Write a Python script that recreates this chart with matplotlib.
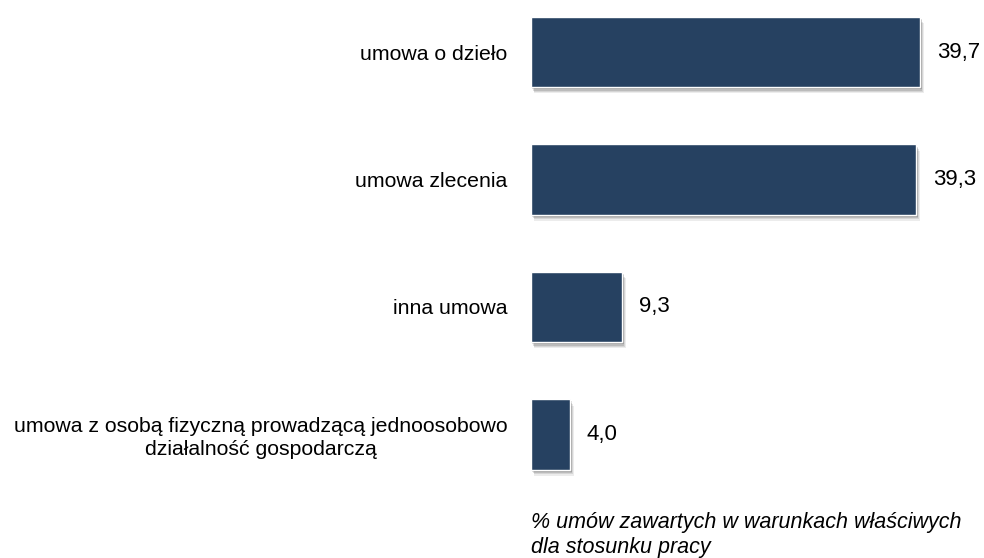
import matplotlib
matplotlib.use("Agg")
import matplotlib.pyplot as plt
import matplotlib.patheffects as pe

categories = ["umowa o dzieło", "umowa zlecenia", "inna umowa",
              "umowa z osobą fizyczną prowadzącą jednoosobowo\ndziałalność gospodarczą"]
values = [39.7, 39.3, 9.3, 4.0]
value_labels = ["39,7", "39,3", "9,3", "4,0"]
note = "% umów zawartych w warunkach właściwych\ndla stosunku pracy"

plt.rcParams['font.family'] = ['Liberation Sans', 'DejaVu Sans']

W, H = 984, 558
fig = plt.figure(figsize=(W / 100, H / 100), dpi=100)
ax_left, ax_right = 531, 980
ax_top, ax_bottom = 0, 487
ax = fig.add_axes([ax_left / W, 1 - ax_bottom / H, (ax_right - ax_left) / W, (ax_bottom - ax_top) / H])

ypos = list(range(len(categories)))
bars = ax.barh(ypos, values, height=0.55, color="#264161", edgecolor="white", linewidth=1.0)
shadow = []
for dx, dy, a in [(1.0, -1.5, 0.18), (1.5, -2.5, 0.16), (2.0, -3.5, 0.12), (2.5, -4.5, 0.09)]:
    shadow.append(pe.SimplePatchShadow(offset=(dx, dy), shadow_rgbFace="#333333", alpha=a))
shadow.append(pe.Normal())
for b in bars:
    b.set_path_effects(shadow)

ax.set_xlim(0, 45.8)
ax.set_ylim(3.412, -0.408)
ax.set_yticks(ypos)
ax.set_yticklabels(categories, fontsize=15.3, multialignment="center", linespacing=1.25)
ax.tick_params(axis="y", length=0, pad=17)
ax.set_xticks([])
for s in ax.spines.values():
    s.set_visible(False)

for y, v, lab in zip(ypos, values, value_labels):
    ax.annotate(lab, xy=(v, y), xytext=(12, 0), textcoords="offset points",
                va="center", ha="left", fontsize=16)

fig.text(531 / W, 1 - 535 / H, note, fontsize=15.5, style="italic", ha="left", va="center",
         linespacing=1.3)

fig.savefig("out.png", dpi=100)
